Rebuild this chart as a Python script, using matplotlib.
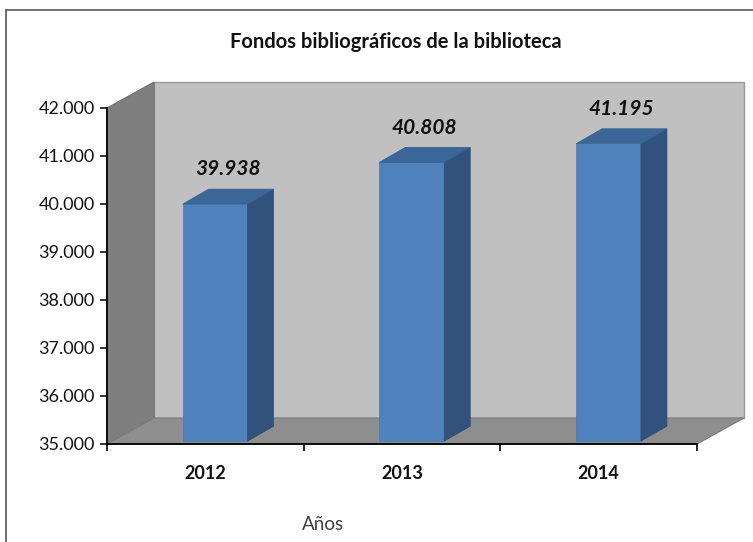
import numpy as np
import matplotlib.pyplot as plt
from matplotlib.patches import Polygon, Rectangle
from matplotlib.ticker import FuncFormatter, FixedLocator

years = ["2012", "2013", "2014"]
fondos = [39938, 40808, 41195]
y_ticks = [35000, 36000, 37000, 38000, 39000, 40000, 41000, 42000]

plt.rcParams['font.family'] = ['Lato', 'DejaVu Sans']

fig = plt.figure(figsize=(7.53, 5.42), dpi=100)
ax = fig.add_axes([107 / 753, 98 / 542, 590 / 753, 336 / 542])
ax.set_xlim(-0.5, len(years) - 0.5)
ax.set_ylim(y_ticks[0], y_ticks[-1])
ax.set_facecolor('none')

# depth of the "3d" box, in data units
dx, dy = 0.239, 542
# bar depth and a small shift back into the box
bdx, bdy = 0.132, 312
sx, sy = 0.05, 60
half_w = 0.165

lo, hi = y_ticks[0], y_ticks[-1]
x0, x1 = -0.5, len(years) - 0.5

# back wall, side wall, floor
ax.add_patch(Polygon([(x0 + dx, lo + dy), (x1 + dx, lo + dy), (x1 + dx, hi + dy), (x0 + dx, hi + dy)],
                     closed=True, facecolor='#c0c0c0', edgecolor='#9a9a9a', lw=1, clip_on=False, zorder=1))
ax.add_patch(Polygon([(x0, lo), (x0, hi), (x0 + dx, hi + dy), (x0 + dx, lo + dy)],
                     closed=True, facecolor='#7f7f7f', edgecolor='#6f6f6f', lw=0.8, clip_on=False, zorder=1))
ax.add_patch(Polygon([(x0, lo), (x1, lo), (x1 + dx, lo + dy), (x0 + dx, lo + dy)],
                     closed=True, facecolor='#8e8e8e', edgecolor='#7a7a7a', lw=0.8, clip_on=False, zorder=1))

for i, v in enumerate(fondos):
    xl = i + sx - half_w
    xr = i + sx + half_w
    b = lo + sy
    t = v + sy
    ax.bar(i + sx, t - b, bottom=b, width=2 * half_w, color='#4f81bd', edgecolor='#4a78b0',
           lw=0.5, zorder=3, clip_on=False)
    ax.add_patch(Polygon([(xr, b), (xr + bdx, b + bdy), (xr + bdx, t + bdy), (xr, t)],
                         closed=True, facecolor='#31527c', edgecolor='#2d4b72', lw=0.5, zorder=3, clip_on=False))
    ax.add_patch(Polygon([(xl, t), (xr, t), (xr + bdx, t + bdy), (xl + bdx, t + bdy)],
                         closed=True, facecolor='#3b6698', edgecolor='#36608f', lw=0.5, zorder=3, clip_on=False))
    ax.annotate(f"{v / 1000:.3f}", (i + sx + bdx / 2, t + bdy), xytext=(0, 7), textcoords='offset points',
                ha='center', va='bottom', fontsize=15, fontweight='bold', fontstyle='italic',
                color='#111111', zorder=5)

for side in ['top', 'right']:
    ax.spines[side].set_visible(False)
ax.spines['left'].set_linewidth(1.3)
ax.spines['bottom'].set_linewidth(1.3)
ax.spines['left'].set_zorder(4)
ax.spines['bottom'].set_zorder(4)

ax.yaxis.set_major_locator(FixedLocator(y_ticks))
ax.yaxis.set_major_formatter(FuncFormatter(lambda v, p: f"{int(v):,}".replace(",", ".")))
ax.tick_params(axis='y', direction='out', length=5, width=1.2, labelsize=13, pad=4, colors='#111111')

ax.xaxis.set_major_locator(FixedLocator(np.arange(-0.5, len(years), 1.0)))
ax.xaxis.set_major_formatter(FuncFormatter(lambda v, p: ""))
ax.xaxis.set_minor_locator(FixedLocator(np.arange(len(years))))
ax.set_xticks(np.arange(len(years)), years, minor=True)
ax.tick_params(axis='x', which='major', direction='out', length=5, width=1.2)
ax.tick_params(axis='x', which='minor', length=0, pad=15, labelsize=13)
for lab in ax.get_xticklabels(minor=True):
    lab.set_fontweight('bold')
    lab.set_color('#111111')

fig.text(396 / 753, 1 - 42 / 542, "Fondos bibliográficos de la biblioteca", ha='center', va='center',
         fontsize=14.5, fontweight='bold', color='#111111')
fig.text(323 / 753, 1 - 525 / 542, "Años", ha='center', va='center', fontsize=13.5, color='#404040')

# chart frame, partly cropped
fig.patches.append(Rectangle((6 / 753, -0.1), 1.2, 1 - 10 / 542 + 0.1, transform=fig.transFigure,
                             fill=False, edgecolor='#555555', lw=1.2))

fig.savefig("out.png", dpi=100)
